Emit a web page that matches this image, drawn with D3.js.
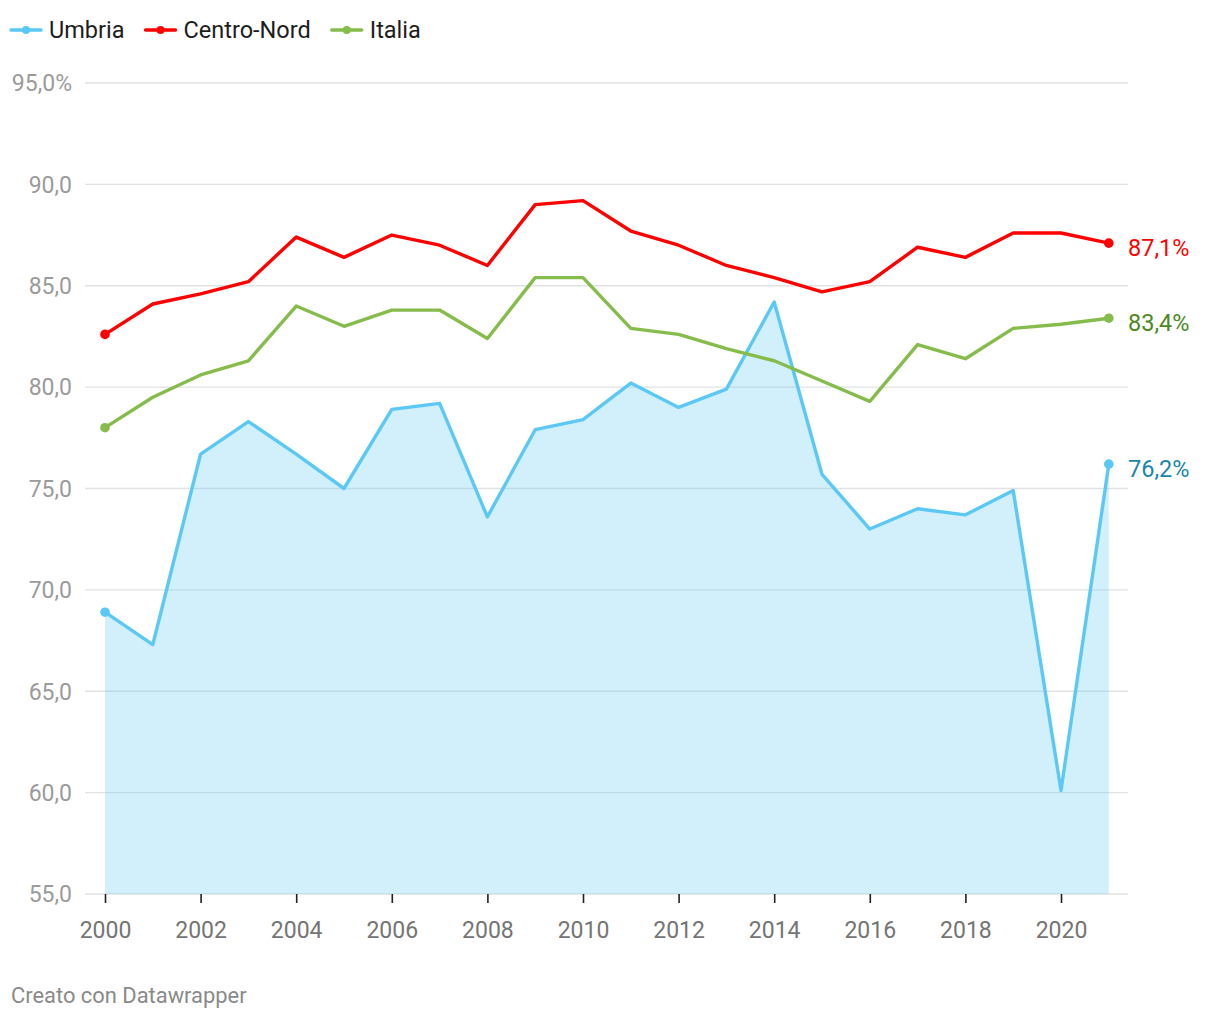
<!DOCTYPE html>
<html>
<head>
<meta charset="utf-8">
<script src="https://cdn.jsdelivr.net/npm/d3@7"></script>
<style>
  html, body { margin: 0; padding: 0; background: #fff; }
  svg { display: block; font-family: Roboto, "Noto Sans", sans-serif; }
</style>
</head>
<body>
<svg id="chart" width="1220" height="1020"></svg>
<script>
// ---- data ----
const years = [2000,2001,2002,2003,2004,2005,2006,2007,2008,2009,2010,2011,2012,2013,2014,2015,2016,2017,2018,2019,2020,2021];
const umbria = [68.9,67.3,76.7,78.3,76.7,75.0,78.9,79.2,73.6,77.9,78.4,80.2,79.0,79.9,84.2,75.7,73.0,74.0,73.7,74.9,60.1,76.2];
const centroNord = [82.6,84.1,84.6,85.2,87.4,86.4,87.5,87.0,86.0,89.0,89.2,87.7,87.0,86.0,85.4,84.7,85.2,86.9,86.4,87.6,87.6,87.1];
const italia = [78.0,79.5,80.6,81.3,84.0,83.0,83.8,83.8,82.4,85.4,85.4,82.9,82.6,81.9,81.3,80.3,79.3,82.1,81.4,82.9,83.1,83.4];
const seriesNames = ["Umbria","Centro-Nord","Italia"];
const yTicks = [55,60,65,70,75,80,85,90,95];
const xTicks = [2000,2002,2004,2006,2008,2010,2012,2014,2016,2018,2020];
const footerText = "Creato con Datawrapper";

// ---- styles ----
const lineColors = ["#5bc8f5","#ff0000","#86bc4c"];
const labelColors = ["#1a86ad","#ff0000","#4e8a22"];

const series = seriesNames.map((name,i)=>({
  name,
  values: [umbria,centroNord,italia][i].map((v,j)=>({year:years[j], v})),
  color: lineColors[i],
  labelColor: labelColors[i]
}));

const svg = d3.select("#chart");
const fmt = v => d3.format(".1f")(v).replace(".", ",");

const x = d3.scaleLinear().domain([2000,2021]).range([105,1108.8]);
const y = d3.scaleLinear().domain([55,95]).range([894,83]);

const gridLeft = 85, gridRight = 1128;

// grid
const grid = svg.append("g");
grid.selectAll("line").data(yTicks).join("line")
  .attr("x1", gridLeft).attr("x2", gridRight)
  .attr("y1", d=>y(d)).attr("y2", d=>y(d))
  .attr("stroke", "#e2e2e2").attr("stroke-width", 1.3);

// y labels
svg.append("g").selectAll("text").data(yTicks).join("text")
  .attr("x", 72).attr("y", d=>y(d)).attr("dy", "0.36em")
  .attr("text-anchor","end")
  .attr("fill","#9b9b9b")
  .style("font-size","23px")
  .text(d => fmt(d) + (d===95 ? "%" : ""));

// x axis via d3 axis
const xAxis = d3.axisBottom(x).tickValues(xTicks).tickFormat(d3.format("d")).tickSize(9).tickPadding(19);
const gx = svg.append("g").attr("transform", `translate(0,${y(55)})`).call(xAxis);
gx.select(".domain").remove();
gx.selectAll(".tick line").attr("stroke","#222").attr("stroke-width",1.6);
gx.selectAll(".tick text").attr("fill","#757575").style("font-size","23px").style("font-family","Roboto");

// area for Umbria
const area = d3.area().x(d=>x(d.year)).y0(y(55)).y1(d=>y(d.v));
svg.append("path").datum(series[0].values)
  .attr("d", area).attr("fill","#5bc8f5").attr("fill-opacity",0.28);

// lines
const line = d3.line().x(d=>x(d.year)).y(d=>y(d.v));
const lg = svg.append("g");
series.forEach(s => {
  lg.append("path").datum(s.values).attr("d", line)
    .attr("fill","none").attr("stroke", s.color).attr("stroke-width",3.4)
    .attr("stroke-linejoin","round").attr("stroke-linecap","round");
  const ends = [s.values[0], s.values[s.values.length-1]];
  lg.selectAll(null).data(ends).join("circle")
    .attr("cx", d=>x(d.year)).attr("cy", d=>y(d.v)).attr("r",4.8).attr("fill", s.color);
  const last = s.values[s.values.length-1];
  lg.append("text").attr("x", 1128).attr("y", y(last.v)).attr("dy", 12.5)
    .attr("fill", s.labelColor).style("font-size","23.5px")
    .text(fmt(last.v) + "%");
});

// legend
const leg = svg.append("g");
let lx = 11;
series.forEach(s => {
  const g = leg.append("g");
  g.append("line").attr("x1", lx).attr("x2", lx+30).attr("y1",30).attr("y2",30)
    .attr("stroke", s.color).attr("stroke-width",3.4).attr("stroke-linecap","round");
  g.append("circle").attr("cx", lx+15).attr("cy",30).attr("r",4).attr("fill", s.color);
  const t = g.append("text").attr("x", lx+38).attr("y",30).attr("dy","0.36em")
    .attr("fill","#1d1d1d").style("font-size","23.5px").text(s.name);
  lx = lx + 38 + t.node().getComputedTextLength() + 21;
});

// footer
svg.append("text").attr("x", 11).attr("y", 1003)
  .attr("fill","#8a8a8a").style("font-size","21.9px").text(footerText);
</script>
</body>
</html>
